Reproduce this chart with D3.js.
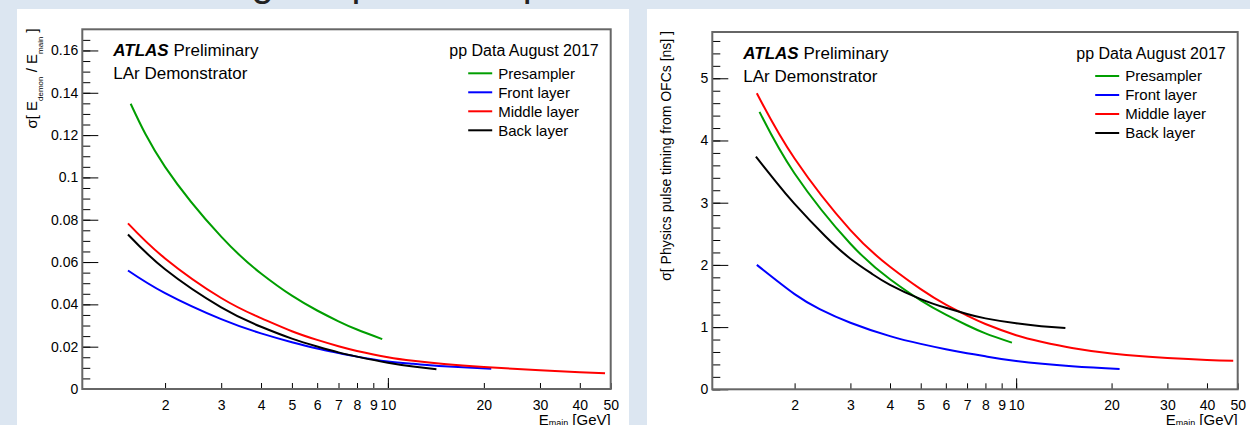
<!DOCTYPE html>
<html>
<head>
<meta charset="utf-8">
<script src="https://cdn.jsdelivr.net/npm/d3@7"></script>
<style>
	body { margin: 0; background: #dce6f1; overflow: hidden; }
	svg { display: block; font-family: "Liberation Sans", Arial, Helvetica, sans-serif; }
	text { white-space: pre; }
</style>
</head>
<body>
<div id="chart"></div>
<script>

// tick labels on the log energy axis
var xTickValues = [2, 3, 4, 5, 6, 7, 8, 9, 10, 20, 30, 40, 50];

var layers = ["Presampler", "Front layer", "Middle layer", "Back layer"];
var layerColors = ["#009e00", "#0000ff", "#ff0000", "#000000"];

// left plot: sigma[E_demon / E_main] vs E_main
var presamplerE_energy = [1.56, 2, 3, 4, 5, 6, 7, 8, 9.6];
var presamplerV_energy = [0.1348, 0.105, 0.072, 0.0546, 0.0441, 0.0371, 0.032, 0.0281, 0.0236];
var frontE_energy = [1.53, 2, 3, 4, 5, 6, 7, 8, 10, 12, 15, 21.1];
var frontV_energy = [0.056, 0.0453, 0.033, 0.0263, 0.0221, 0.0191, 0.017, 0.0153, 0.013, 0.0119, 0.0108, 0.0096];
var middleE_energy = [1.53, 2, 3, 4, 5, 6, 7, 8, 10, 12, 15, 20, 30, 40, 48];
var middleV_energy = [0.0783, 0.0617, 0.043, 0.0335, 0.0273, 0.0232, 0.0202, 0.018, 0.015, 0.0133, 0.0118, 0.0104, 0.0089, 0.0079, 0.0074];
var backE_energy = [1.53, 2, 3, 4, 5, 6, 7, 8, 10, 12, 14.2];
var backV_energy = [0.073, 0.0566, 0.0386, 0.0294, 0.0238, 0.0201, 0.0173, 0.0153, 0.0124, 0.0106, 0.0093];

// right plot: sigma of physics pulse timing [ns] vs E_main
var presamplerE_timing = [1.55, 2, 3, 4, 5, 6, 7, 8, 9.7];
var presamplerV_timing = [4.46, 3.47, 2.34, 1.77, 1.43, 1.2, 1.03, 0.9, 0.75];
var frontE_timing = [1.52, 2, 2.4, 3, 4, 5, 6, 7, 8, 10, 15, 21.2];
var frontV_timing = [2.0, 1.53, 1.29, 1.07, 0.855, 0.73, 0.644, 0.58, 0.53, 0.455, 0.37, 0.326];
var middleE_timing = [1.52, 2, 3, 4, 5, 6, 7, 8, 10, 12, 15, 20, 25, 30, 40, 48.4];
var middleV_timing = [4.76, 3.71, 2.56, 1.97, 1.61, 1.36, 1.185, 1.05, 0.87, 0.765, 0.665, 0.575, 0.53, 0.505, 0.472, 0.458];
var backE_timing = [1.51, 1.75, 2, 2.5, 3, 3.5, 4, 5, 6, 7, 8, 10, 12, 14.3];
var backV_timing = [3.74, 3.33, 2.98, 2.46, 2.1, 1.86, 1.68, 1.45, 1.31, 1.21, 1.14, 1.06, 1.015, 0.985];

var energyTicks = [0, 0.02, 0.04, 0.06, 0.08, 0.1, 0.12, 0.14, 0.16];
var timingTicks = [0, 1, 2, 3, 4, 5];


function zipSeries(es, vs) {
	return es.map(function (e, i) { return [e, vs[i]]; });
}


var svg = d3.select("#chart").append("svg")
	.attr("width", 1250)
	.attr("height", 425);

// slide title, mostly cut off by the top of the picture
svg.append("text")
	.attr("x", -22)
	.attr("y", -4.5)
	.attr("font-size", 40)
	.attr("fill", "#222")
	.text("Resolution using the pulse shape");

// white pads
svg.append("rect").attr("x", 17).attr("y", 9).attr("width", 612).attr("height", 420).attr("fill", "white");
svg.append("rect").attr("x", 647).attr("y", 9).attr("width", 610).attr("height", 420).attr("fill", "white");


/*
 * LayerPlot - one ROOT style canvas with the four layer curves
 */
LayerPlot = function (_svg, _opts) {
	this.svg = _svg;
	this.opts = _opts;
	this.initVis();
}

LayerPlot.prototype.initVis = function () {
	var vis = this;
	var o = vis.opts;

	vis.width = o.right - o.left;
	vis.height = o.bottom - o.top;

	vis.g = vis.svg.append("g")
		.attr("transform", "translate(" + o.left + "," + o.top + ")");

	vis.x = d3.scaleLog()
		.domain([1.1, 50])
		.range([0, vis.width]);

	vis.y = d3.scaleLinear()
		.domain([0, o.yMax])
		.range([vis.height, 0]);

	// curves
	var line = d3.line()
		.x(function (d) { return vis.x(d[0]); })
		.y(function (d) { return vis.y(d[1]); })
		.curve(d3.curveNatural);

	vis.g.selectAll(".curve")
		.data(o.series)
		.enter()
		.append("path")
		.attr("class", "curve")
		.attr("d", function (d) { return line(d); })
		.attr("fill", "none")
		.attr("stroke", function (d, i) { return layerColors[i]; })
		.attr("stroke-width", 2);

	// x axis, ticks pointing in
	var xAxis = d3.axisBottom(vis.x)
		.tickValues(xTickValues)
		.tickFormat(d3.format("d"))
		.tickSizeInner(-6)
		.tickSizeOuter(0)
		.tickPadding(11);

	var xg = vis.g.append("g")
		.attr("transform", "translate(0," + vis.height + ")")
		.call(xAxis);
	xg.select(".domain").remove();
	xg.attr("font-size", 14).attr("font-family", null);

	var xMajor = vis.g.append("g")
		.attr("transform", "translate(0," + vis.height + ")")
		.call(d3.axisBottom(vis.x).tickValues([10]).tickSizeInner(-11).tickSizeOuter(0).tickFormat(""));
	xMajor.select(".domain").remove();

	// y axis
	var yAxis = d3.axisLeft(vis.y)
		.tickValues(o.yTicks)
		.tickFormat(o.yFormat)
		.tickSizeInner(-16)
		.tickSizeOuter(0)
		.tickPadding(4);

	var yg = vis.g.append("g").call(yAxis);
	yg.select(".domain").remove();
	yg.attr("font-size", 14).attr("font-family", null);

	var yMinor = vis.g.append("g")
		.call(d3.axisLeft(vis.y).tickValues(o.yMinor).tickSizeInner(-8).tickSizeOuter(0).tickFormat(""));
	yMinor.select(".domain").remove();

	// frame
	vis.g.append("rect")
		.attr("width", vis.width)
		.attr("height", vis.height)
		.attr("fill", "none")
		.attr("stroke", "#666")
		.attr("stroke-width", 2);

	// y title (rotated, flush with the top)
	var yt = vis.svg.append("text")
		.attr("transform", "translate(" + o.yTitleX + "," + (o.top - 1) + ") rotate(-90)")
		.attr("text-anchor", "end")
		.attr("font-size", o.yTitleSize);
	o.yTitle.forEach(function (part) {
		if (part.sub) {
			yt.append("tspan").attr("font-size", 8).attr("dy", 6).text(part.text);
		} else {
			yt.append("tspan").attr("dy", part.after ? -6 : 0).text(part.text);
		}
	});

	// x title, cut by the bottom edge as in the original
	var xt = vis.g.append("text")
		.attr("x", vis.width)
		.attr("y", vis.height + 36)
		.attr("text-anchor", "end")
		.attr("font-size", 15);
	xt.append("tspan").text("E");
	xt.append("tspan").attr("font-size", 9).attr("dy", 1).text("main");
	xt.append("tspan").attr("dy", -1).text(" [GeV]");

	// ATLAS label
	var atlas = vis.g.append("text")
		.attr("x", 31)
		.attr("y", 26.5)
		.attr("font-size", 17);
	atlas.append("tspan").attr("font-weight", "bold").attr("font-style", "italic").text("ATLAS");
	atlas.append("tspan").text(" Preliminary");

	vis.g.append("text")
		.attr("x", 31)
		.attr("y", 50)
		.attr("font-size", 17)
		.text("LAr Demonstrator");

	// legend
	vis.g.append("text")
		.attr("x", vis.width - 12)
		.attr("y", 26.5)
		.attr("text-anchor", "end")
		.attr("font-size", 16)
		.text("pp Data August 2017");

	var leg = vis.g.selectAll(".leg")
		.data(layers)
		.enter()
		.append("g")
		.attr("class", "leg")
		.attr("transform", function (d, i) { return "translate(" + (vis.width - 142.5) + "," + (44 + i * 19) + ")"; });

	leg.append("line")
		.attr("x1", 0)
		.attr("x2", 24)
		.attr("stroke", function (d, i) { return layerColors[i]; })
		.attr("stroke-width", 2);

	leg.append("text")
		.attr("x", 30)
		.attr("dy", "0.35em")
		.attr("font-size", 15)
		.text(function (d) { return d; });
}


var energyPlot = new LayerPlot(svg, {
	left: 82.3, right: 610.7, top: 29.3, bottom: 389,
	yMax: 0.17,
	yTicks: energyTicks,
	yMinor: d3.range(0, 34).map(function (i) { return i * 0.005; }),
	yFormat: function (d) { return d === 0 ? "0" : String(+d.toFixed(2)); },
	yTitleX: 37,
	yTitleSize: 15,
	yTitle: [
		{ text: "σ[ E" },
		{ text: "demon", sub: true },
		{ text: " / E", after: true },
		{ text: "main", sub: true },
		{ text: " ]", after: true }
	],
	series: [
		zipSeries(presamplerE_energy, presamplerV_energy),
		zipSeries(frontE_energy, frontV_energy),
		zipSeries(middleE_energy, middleV_energy),
		zipSeries(backE_energy, backV_energy)
	]
});

var timingPlot = new LayerPlot(svg, {
	left: 712.3, right: 1237.7, top: 32, bottom: 389.3,
	yMax: 5.744,
	yTicks: timingTicks,
	yMinor: d3.range(0, 29).map(function (i) { return i * 0.2; }),
	yFormat: d3.format("d"),
	yTitleX: 671,
	yTitleSize: 14,
	yTitle: [
		{ text: "σ[ Physics pulse timing from OFCs [ns] ]" }
	],
	series: [
		zipSeries(presamplerE_timing, presamplerV_timing),
		zipSeries(frontE_timing, frontV_timing),
		zipSeries(middleE_timing, middleV_timing),
		zipSeries(backE_timing, backV_timing)
	]
});

</script>
</body>
</html>
